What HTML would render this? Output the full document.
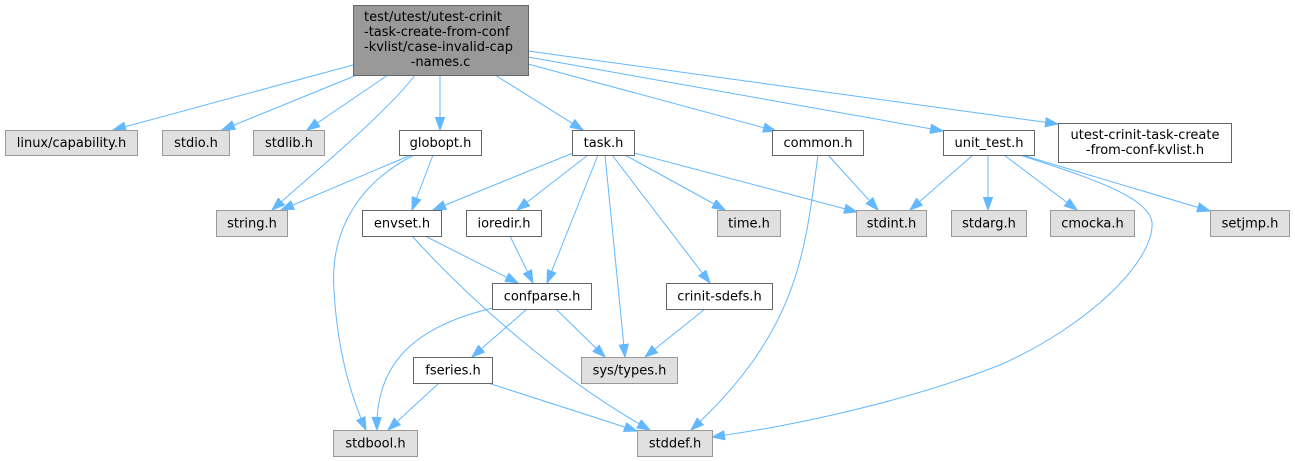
<!DOCTYPE html>
<html><head><meta charset="utf-8"><style>
html,body{margin:0;padding:0;background:#fff;}
svg{display:block;}
text{font-family:"DejaVu Sans","Liberation Sans",sans-serif;font-size:13px;fill:#000;}
.g{fill:#e0e0e0;stroke:#999999;stroke-width:1;}
.w{fill:#ffffff;stroke:#666666;stroke-width:1;}
.m{fill:#999999;stroke:#666666;stroke-width:1;}
.e{fill:none;stroke:#63b8ff;stroke-width:1;}
</style></head><body>
<svg width="1295" height="461" viewBox="0 0 1295 461" xmlns="http://www.w3.org/2000/svg">
<defs>
<marker id="a" markerWidth="14" markerHeight="10" refX="13" refY="5" orient="auto" markerUnits="userSpaceOnUse">
<path d="M0,0.3 L13,5 L0,9.7 z" fill="#63b8ff" stroke="#63b8ff" stroke-width="1"/>
</marker>
</defs>
<g marker-end="url(#a)">
<path class="e" d="M353,65 L113,130"/>
<path class="e" d="M357,75 L222,130"/>
<path class="e" d="M388,75 L307,130"/>
<path class="e" d="M415,75 C385,115 305,180 272,210"/>
<path class="e" d="M440,75 L440,130"/>
<path class="e" d="M495,75 L583,130"/>
<path class="e" d="M528,64 L776,131"/>
<path class="e" d="M528,57 L943,131"/>
<path class="e" d="M528,51 L1058,124"/>
<path class="e" d="M411,155 L281,210"/>
<path class="e" d="M433,155 L412,210"/>
<path class="e" d="M414,155 C355,185 330,235 334,290 C337,345 348,390 366,430"/>
<path class="e" d="M573,153 L433,210"/>
<path class="e" d="M588,155 L517,210"/>
<path class="e" d="M598,155 L547,283"/>
<path class="e" d="M605,155 L625,357"/>
<path class="e" d="M612,155 L710,283"/>
<path class="e" d="M625,155 L725,210"/>
<path class="e" d="M634,153 L857,212"/>
<path class="e" d="M425,236 L518,283"/>
<path class="e" d="M412,236 C470,300 560,380 650,430"/>
<path class="e" d="M510,236 L533,283"/>
<path class="e" d="M493,308 C420,325 375,360 377,430"/>
<path class="e" d="M527,309 L472,357"/>
<path class="e" d="M556,309 L605,357"/>
<path class="e" d="M705,309 L645,357"/>
<path class="e" d="M439,383 L388,430"/>
<path class="e" d="M488,383 L637,431"/>
<path class="e" d="M828,155 L878,210"/>
<path class="e" d="M818,155 C805,250 800,330 691,430"/>
<path class="e" d="M973,155 L910,210"/>
<path class="e" d="M988,155 L988,210"/>
<path class="e" d="M1004,155 L1077,210"/>
<path class="e" d="M1022,155 L1210,211"/>
<path class="e" d="M1020,155 C1080,175 1148,195 1152,222 C1155,260 1090,325 1000,365 C910,400 800,425 712,437"/>
</g>

<!-- main node -->
<rect class="m" x="353.5" y="5.5" width="175" height="70"/>
<text x="364" y="21">test/utest/utest-crinit</text>
<text x="364" y="36">-task-create-from-conf</text>
<text x="364" y="51">-kvlist/case-invalid-cap</text>
<text x="440.5" y="66" text-anchor="middle">-names.c</text>

<!-- row 1 -->
<rect class="g" x="5.5" y="130.5" width="132" height="25"/>
<text x="71.5" y="147" text-anchor="middle">linux/capability.h</text>
<rect class="g" x="162.5" y="130.5" width="67" height="25"/>
<text x="196" y="147" text-anchor="middle">stdio.h</text>
<rect class="g" x="253.5" y="130.5" width="71" height="25"/>
<text x="289" y="147" text-anchor="middle">stdlib.h</text>
<rect class="w" x="399.5" y="130.5" width="82" height="25"/>
<text x="440.5" y="147" text-anchor="middle">globopt.h</text>
<rect class="w" x="572.5" y="130.5" width="62" height="25"/>
<text x="603.5" y="147" text-anchor="middle">task.h</text>
<rect class="w" x="772.5" y="130.5" width="91" height="25"/>
<text x="818" y="147" text-anchor="middle">common.h</text>
<rect class="w" x="943.5" y="130.5" width="91" height="25"/>
<text x="989" y="147" text-anchor="middle">unit_test.h</text>
<rect class="w" x="1058.5" y="123.5" width="173" height="39"/>
<text x="1145" y="139" text-anchor="middle">utest-crinit-task-create</text>
<text x="1145" y="154" text-anchor="middle">-from-conf-kvlist.h</text>

<!-- row 2 -->
<rect class="g" x="216.5" y="210.5" width="71" height="26"/>
<text x="252" y="227.5" text-anchor="middle">string.h</text>
<rect class="w" x="362.5" y="210.5" width="79" height="26"/>
<text x="402" y="227.5" text-anchor="middle">envset.h</text>
<rect class="w" x="466.5" y="210.5" width="75" height="26"/>
<text x="504" y="227.5" text-anchor="middle">ioredir.h</text>
<rect class="g" x="717.5" y="210.5" width="63" height="26"/>
<text x="749" y="227.5" text-anchor="middle">time.h</text>
<rect class="g" x="856.5" y="210.5" width="70" height="26"/>
<text x="891.5" y="227.5" text-anchor="middle">stdint.h</text>
<rect class="g" x="951.5" y="210.5" width="75" height="26"/>
<text x="989" y="227.5" text-anchor="middle">stdarg.h</text>
<rect class="g" x="1050.5" y="210.5" width="84" height="26"/>
<text x="1092.5" y="227.5" text-anchor="middle">cmocka.h</text>
<rect class="g" x="1210.5" y="210.5" width="79" height="26"/>
<text x="1250" y="227.5" text-anchor="middle">setjmp.h</text>

<!-- row 3 -->
<rect class="w" x="492.5" y="283.5" width="99" height="26"/>
<text x="542" y="300.5" text-anchor="middle">confparse.h</text>
<rect class="w" x="666.5" y="283.5" width="106" height="26"/>
<text x="719.5" y="300.5" text-anchor="middle">crinit-sdefs.h</text>

<!-- row 4 -->
<rect class="w" x="413.5" y="357.5" width="79" height="26"/>
<text x="453" y="374.5" text-anchor="middle">fseries.h</text>
<rect class="g" x="581.5" y="357.5" width="96" height="26"/>
<text x="629.5" y="374.5" text-anchor="middle">sys/types.h</text>

<!-- row 5 -->
<rect class="g" x="333.5" y="430.5" width="84" height="26"/>
<text x="375.5" y="447.5" text-anchor="middle">stdbool.h</text>
<rect class="g" x="637.5" y="430.5" width="75" height="26"/>
<text x="675" y="447.5" text-anchor="middle">stddef.h</text>
</svg>
</body></html>
